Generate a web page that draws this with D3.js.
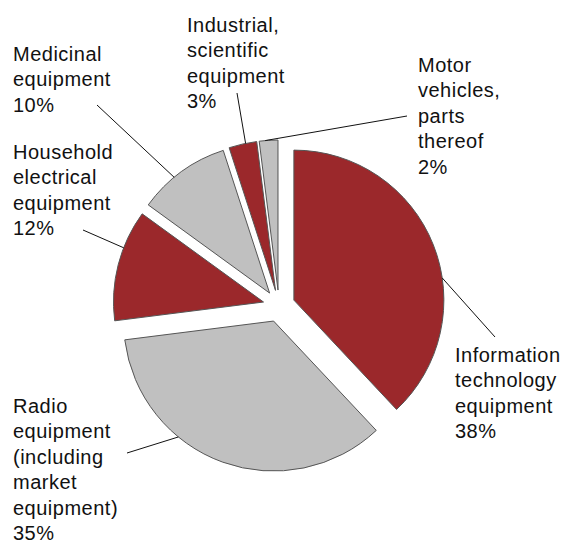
<!DOCTYPE html>
<html>
<head>
<meta charset="utf-8">
<script src="https://cdn.jsdelivr.net/npm/d3@7"></script>
<style>
  body { margin: 0; background: #fff; }
  text { font-family: "Liberation Sans", Arial, Helvetica, sans-serif; font-size: 20px; letter-spacing: 0.5px; fill: #111; }
</style>
</head>
<body>
<svg id="chart" width="565" height="540"></svg>
<script>
// data
const categories = [
    "Information technology equipment",
    "Radio equipment (including market equipment)",
    "Household electrical equipment",
    "Medicinal equipment",
    "Industrial, scientific equipment",
    "Motor vehicles, parts thereof"
];
const values = [38, 35, 12, 10, 3, 2];
const labelLines = [
    ["Information", "technology", "equipment"],
    ["Radio", "equipment", "(including", "market", "equipment)"],
    ["Household", "electrical", "equipment"],
    ["Medicinal", "equipment"],
    ["Industrial,", "scientific", "equipment"],
    ["Motor", "vehicles,", "parts", "thereof"]
];

// layout of the labels (text position + where the leader line touches the slice)
const labelPos = [[455, 362], [13, 413], [13, 159], [13, 61], [187, 32], [418, 72]];
const leaderEnd = [[495, 337], [127, 453], [83, 230], [97, 105], [237, 93], [407, 116]];
const leaderAngle = [81.5, 219.4, 291.2, 320.5, 348.5, 355.1];

const colors = ["#9b282b", "#c0c0c0"];
const cx = 279, cy = 306, radius = 150, explode = 16, lineH = 25.4;

const svg = d3.select("#chart");
const g = svg.append("g").attr("transform", `translate(${cx},${cy})`);

const pie = d3.pie().sort(null).value(d => d)(values);
const arc = d3.arc().innerRadius(0).outerRadius(radius);

function offset(d) {
    return d3.pointRadial((d.startAngle + d.endAngle) / 2, explode);
}

// slices
g.selectAll(".slice")
    .data(pie)
    .enter()
    .append("path")
    .attr("class", "slice")
    .attr("transform", d => `translate(${offset(d)})`)
    .attr("d", arc)
    .attr("fill", (d, i) => colors[i % 2])
    .attr("stroke", "#555")
    .attr("stroke-width", 1);

// leader lines
g.selectAll(".leader")
    .data(pie)
    .enter()
    .append("line")
    .attr("class", "leader")
    .attr("x1", (d, i) => offset(d)[0] + d3.pointRadial(leaderAngle[i] * Math.PI / 180, radius)[0])
    .attr("y1", (d, i) => offset(d)[1] + d3.pointRadial(leaderAngle[i] * Math.PI / 180, radius)[1])
    .attr("x2", (d, i) => leaderEnd[i][0] - cx)
    .attr("y2", (d, i) => leaderEnd[i][1] - cy)
    .attr("stroke", "#111")
    .attr("stroke-width", 1);

// labels
const labels = svg.selectAll(".label")
    .data(pie)
    .enter()
    .append("text")
    .attr("class", "label")
    .attr("x", (d, i) => labelPos[i][0])
    .attr("y", (d, i) => labelPos[i][1]);

labels.each(function(d, i) {
    const lines = labelLines[i].concat([values[i] + "%"]);
    d3.select(this).selectAll("tspan")
        .data(lines)
        .enter()
        .append("tspan")
        .attr("x", labelPos[i][0])
        .attr("dy", (l, j) => j === 0 ? 0 : lineH)
        .text(l => l);
});
</script>
</body>
</html>
